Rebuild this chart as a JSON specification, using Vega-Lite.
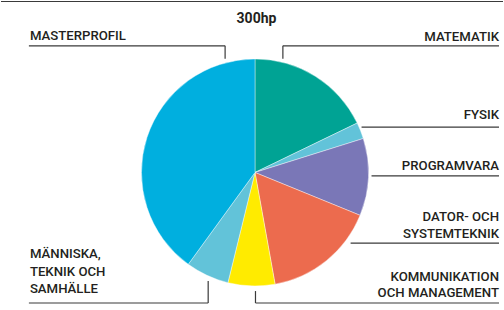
{
  "$schema": "https://vega.github.io/schema/vega-lite/v6.json",
  "width": 504,
  "height": 310,
  "autosize": {"type": "fit", "contains": "padding"},
  "padding": 0,
  "background": "#ffffff",
  "config": {"view": {"stroke": null}},
  "datasets": {
    "slices": [
      {"kurs": "MATEMATIK", "hp": 53.5, "ordning": 1},
      {"kurs": "FYSIK", "hp": 7, "ordning": 2},
      {"kurs": "PROGRAMVARA", "hp": 33, "ordning": 3},
      {"kurs": "DATOR- OCH SYSTEMTEKNIK", "hp": 48, "ordning": 4},
      {"kurs": "KOMMUNIKATION OCH MANAGEMENT", "hp": 20, "ordning": 5},
      {"kurs": "MÄNNISKA, TEKNIK OCH SAMHÄLLE", "hp": 18.5, "ordning": 6},
      {"kurs": "MASTERPROFIL", "hp": 120, "ordning": 7}
    ],
    "labels": [
      {"text": "MATEMATIK", "x": 500, "y": 40.5, "side": "right"},
      {"text": "FYSIK", "x": 500, "y": 118, "side": "right"},
      {"text": "PROGRAMVARA", "x": 500, "y": 170, "side": "right"},
      {"text": "DATOR- OCH\nSYSTEMTEKNIK", "x": 500, "y": 221, "side": "right"},
      {"text": "KOMMUNIKATION\nOCH MANAGEMENT", "x": 500, "y": 280.5, "side": "right"},
      {"text": "MASTERPROFIL", "x": 29, "y": 39.5, "side": "left"},
      {"text": "MÄNNISKA,\nTEKNIK OCH\nSAMHÄLLE", "x": 29, "y": 258, "side": "left"}
    ],
    "leaders": [
      {"x": 0, "y": 0.5, "x2": 504, "y2": 0.5},
      {"x": 28, "y": 45, "x2": 225, "y2": 45},
      {"x": 225, "y": 45, "x2": 225, "y2": 58},
      {"x": 283, "y": 45, "x2": 500, "y2": 45},
      {"x": 283, "y": 45, "x2": 283, "y2": 58},
      {"x": 362, "y": 126.5, "x2": 500, "y2": 126.5},
      {"x": 372, "y": 175.5, "x2": 500, "y2": 175.5},
      {"x": 351, "y": 243, "x2": 500, "y2": 243},
      {"x": 255.5, "y": 291, "x2": 255.5, "y2": 303},
      {"x": 255.5, "y": 303, "x2": 500, "y2": 303},
      {"x": 208, "y": 281, "x2": 208, "y2": 303},
      {"x": 28, "y": 303, "x2": 208, "y2": 303}
    ],
    "title": [{"text": "300hp", "x": 256.5, "y": 22.5}]
  },
  "layer": [
    {
      "data": {"name": "slices"},
      "mark": {"type": "arc", "outerRadius": 113.5, "stroke": "#ffffff", "strokeWidth": 0.4},
      "encoding": {
        "x": {"datum": 255, "type": "quantitative", "scale": {"domain": [0, 504], "nice": false, "zero": false}, "axis": null},
        "y": {"datum": 172, "type": "quantitative", "scale": {"domain": [0, 310], "nice": false, "zero": false, "reverse": true}, "axis": null},
        "theta": {"field": "hp", "type": "quantitative", "stack": true},
        "order": {"field": "ordning", "type": "quantitative"},
        "color": {
          "field": "kurs",
          "type": "nominal",
          "legend": null,
          "scale": {
            "domain": ["MATEMATIK", "FYSIK", "PROGRAMVARA", "DATOR- OCH SYSTEMTEKNIK", "KOMMUNIKATION OCH MANAGEMENT", "MÄNNISKA, TEKNIK OCH SAMHÄLLE", "MASTERPROFIL"],
            "range": ["#00A394", "#62C3D9", "#7A77B7", "#EC6B4E", "#FFEB00", "#62C3D9", "#00AFDF"]
          }
        }
      }
    },
    {
      "data": {"name": "leaders"},
      "mark": {"type": "rule", "color": "#3a3a3a", "strokeWidth": 1.2},
      "encoding": {
        "x": {"field": "x", "type": "quantitative"},
        "y": {"field": "y", "type": "quantitative"},
        "x2": {"field": "x2"},
        "y2": {"field": "y2"}
      }
    },
    {
      "data": {"name": "labels"},
      "transform": [{"filter": "datum.side === 'right'"}],
      "mark": {"type": "text", "align": "right", "baseline": "alphabetic", "font": "Roboto", "fontSize": 13.2, "fontWeight": 500, "color": "#231F20", "lineBreak": "\n", "lineHeight": 16.5},
      "encoding": {
        "x": {"field": "x", "type": "quantitative"},
        "y": {"field": "y", "type": "quantitative"},
        "text": {"field": "text"}
      }
    },
    {
      "data": {"name": "labels"},
      "transform": [{"filter": "datum.side === 'left'"}],
      "mark": {"type": "text", "align": "left", "baseline": "alphabetic", "font": "Roboto", "fontSize": 13.2, "fontWeight": 500, "color": "#231F20", "lineBreak": "\n", "lineHeight": 17.5},
      "encoding": {
        "x": {"field": "x", "type": "quantitative"},
        "y": {"field": "y", "type": "quantitative"},
        "text": {"field": "text"}
      }
    },
    {
      "data": {"name": "title"},
      "mark": {"type": "text", "align": "center", "baseline": "alphabetic", "font": "Roboto", "fontSize": 14, "fontWeight": "bold", "color": "#231F20"},
      "encoding": {
        "x": {"field": "x", "type": "quantitative"},
        "y": {"field": "y", "type": "quantitative"},
        "text": {"field": "text"}
      }
    }
  ]
}
